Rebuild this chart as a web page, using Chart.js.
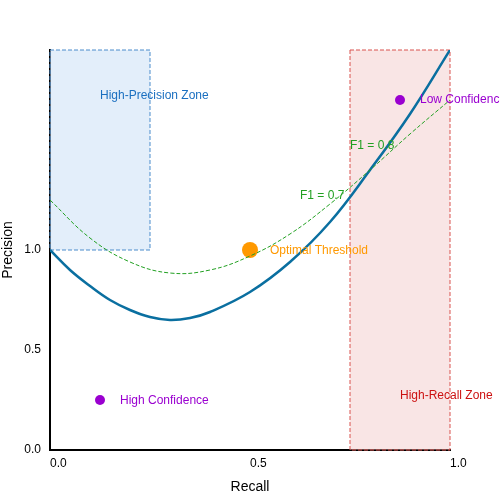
<!DOCTYPE html>
<html>
<head>
<script src="https://cdn.jsdelivr.net/npm/chart.js@4"></script>
<style>body{margin:0;background:#fff}#wrap{width:500px;height:500px}</style>
</head>
<body>
<div id="wrap"><canvas id="c"></canvas></div>
<script>
// curve samples
const recall = [0, 0.05, 0.1, 0.15, 0.2, 0.25, 0.3, 0.35, 0.4, 0.5, 0.6, 0.7, 0.8, 0.9, 1.0];
const precision = [1.0, 0.9, 0.82, 0.75, 0.7, 0.665, 0.65, 0.66, 0.69, 0.79, 0.94, 1.14, 1.4, 1.68, 2.0];
const f1Recall = [0, 0.1, 0.2, 0.3, 0.4, 0.5, 0.6, 0.7, 0.8, 0.9, 1.0];
const f1Curve = [1.25, 1.06, 0.94, 0.885, 0.9, 0.97, 1.08, 1.23, 1.4, 1.58, 1.75];
const confPoints = [{x: 0.125, y: 0.25}, {x: 0.875, y: 1.75}];
const optimal = [{x: 0.5, y: 1.0}];
const yTicks = [0, 0.5, 1.0];

const zones = [
  {x0: 0, x1: 0.25, y0: 1.0, y1: 2.0, fill: 'rgba(200,222,245,0.5)', line: '#4a8ccc'},
  {x0: 0.75, x1: 1.0, y0: 0, y1: 2.0, fill: 'rgba(240,190,190,0.4)', line: '#d9534f'}
];
const notes = [
  {x: 0.125, y: 1.77, t: 'High-Precision Zone', c: '#1a6fc0'},
  {x: 0.925, y: 1.75, t: 'Low Confidence', c: '#9a00d0'},
  {x: 0.75, y: 1.52, t: 'F1 = 0.8', c: '#22a022'},
  {x: 0.625, y: 1.27, t: 'F1 = 0.7', c: '#22a022'},
  {x: 0.55, y: 0.995, t: 'Optimal Threshold', c: '#ff9900'},
  {x: 0.175, y: 0.245, t: 'High Confidence', c: '#9a00d0'},
  {x: 0.875, y: 0.27, t: 'High-Recall Zone', c: '#cc1111'}
];

const overlay = {
  id: 'overlay',
  beforeDatasetsDraw(chart) {
    const {ctx, scales: {x, y}} = chart;
    ctx.save();
    ctx.setLineDash([4, 2]);
    zones.forEach(z => {
      const l = x.getPixelForValue(z.x0), r = x.getPixelForValue(z.x1);
      const t = y.getPixelForValue(z.y1), b = y.getPixelForValue(z.y0);
      ctx.fillStyle = z.fill;
      ctx.fillRect(l, t, r - l, b - t);
      ctx.strokeStyle = z.line;
      ctx.lineWidth = 1;
      ctx.strokeRect(l, t, r - l, b - t);
    });
    ctx.restore();
  },
  afterDatasetsDraw(chart) {
    const {ctx, scales: {x, y}} = chart;
    ctx.save();
    ctx.font = '12px "Liberation Sans"';
    ctx.textBaseline = 'middle';
    notes.forEach(n => {
      ctx.fillStyle = n.c;
      ctx.fillText(n.t, x.getPixelForValue(n.x), y.getPixelForValue(n.y));
    });
    ctx.restore();
  }
};

Chart.defaults.font.family = '"Liberation Sans"';

new Chart('c', {
  type: 'scatter',
  data: {
    datasets: [
      {
        type: 'line',
        data: f1Recall.map((r, i) => ({x: r, y: f1Curve[i]})),
        borderColor: '#22a022',
        borderWidth: 1,
        borderDash: [4, 2],
        pointRadius: 0,
        tension: 0.4
      },
      {
        type: 'line',
        data: recall.map((r, i) => ({x: r, y: precision[i]})),
        borderColor: '#0a6fa0',
        borderWidth: 2.5,
        pointRadius: 0,
        tension: 0.4
      },
      {data: confPoints, backgroundColor: '#9a00d0', pointRadius: 5, borderWidth: 0},
      {data: optimal, backgroundColor: '#ff9900', pointRadius: 8, borderWidth: 0}
    ]
  },
  options: {
    responsive: true,
    maintainAspectRatio: false,
    animation: false,
    layout: {padding: {top: 50, right: 50}},
    plugins: {legend: {display: false}, tooltip: {enabled: false}},
    scales: {
      x: {
        min: 0, max: 1,
        afterFit: s => { s.height = 50; },
        grid: {display: false, tickColor: '#000', tickLength: 6},
        border: {color: '#000', width: 2},
        ticks: {stepSize: 0.5, color: '#000', font: {size: 12}, padding: 0, align: 'start',
          callback: v => v.toFixed(1)},
        title: {display: true, text: 'Recall', color: '#000', font: {size: 14}, padding: {top: 0}}
      },
      y: {
        min: 0, max: 2,
        afterFit: s => { s.width = 50; },
        afterBuildTicks: s => { s.ticks = yTicks.map(v => ({value: v})); },
        grid: {display: false, tickColor: '#000', tickLength: 6},
        border: {color: '#000', width: 2},
        ticks: {color: '#000', font: {size: 12}, callback: v => v.toFixed(1)},
        title: {display: true, text: 'Precision', color: '#000', font: {size: 14}, padding: 0}
      }
    }
  },
  plugins: [overlay]
});
</script>
</body>
</html>
